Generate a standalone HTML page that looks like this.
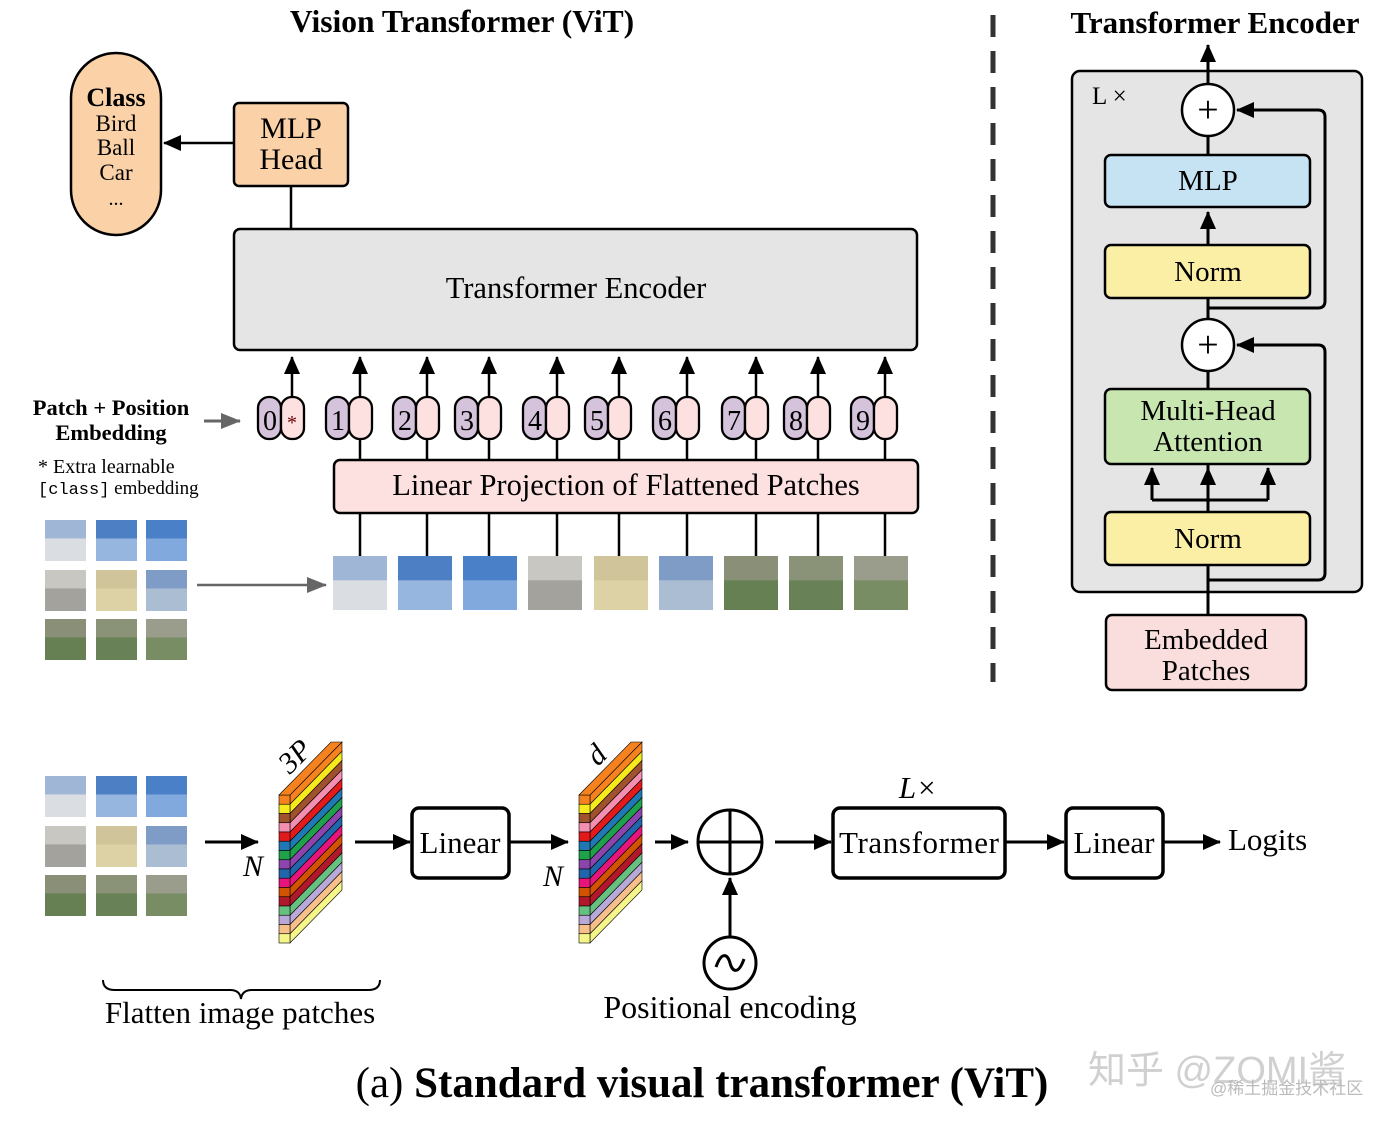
<!DOCTYPE html>
<html><head><meta charset="utf-8"><style>
html,body{margin:0;padding:0;background:#fff;width:1400px;height:1127px;overflow:hidden}
svg{display:block;font-family:"Liberation Serif",serif}
</style></head><body>
<svg id="s" width="1400" height="1127" viewBox="0 0 1400 1127" xmlns="http://www.w3.org/2000/svg">
<defs>
<marker id="ahb" markerWidth="18" markerHeight="16" refX="17" refY="8" orient="auto" markerUnits="userSpaceOnUse"><path d="M0,0 L18,8 L0,16 z" fill="#000"/></marker>
<marker id="ahg" markerWidth="20" markerHeight="16" refX="19" refY="8" orient="auto" markerUnits="userSpaceOnUse"><path d="M0,0 L20,8 L0,16 z" fill="#666"/></marker>
</defs>
<text x="462" y="32" font-size="31.5" font-weight="bold" text-anchor="middle">Vision Transformer (ViT)</text>
<text x="1215" y="33" font-size="31" font-weight="bold" text-anchor="middle">Transformer Encoder</text>
<line x1="993" y1="15" x2="993" y2="682" stroke="#333" stroke-width="5" stroke-dasharray="22,14"/>

<rect x="71" y="53" width="90" height="182" rx="45" fill="#fbd2a8" stroke="#000" stroke-width="2.5"/>
<text x="116" y="106" font-size="26" font-weight="bold" text-anchor="middle">Class</text>
<text x="116" y="131" font-size="23" text-anchor="middle">Bird</text>
<text x="116" y="155" font-size="23" text-anchor="middle">Ball</text>
<text x="116" y="180" font-size="23" text-anchor="middle">Car</text>
<text x="116" y="205" font-size="20" text-anchor="middle">...</text>
<rect x="234" y="103" width="114" height="83" rx="5" fill="#fbd2a8" stroke="#000" stroke-width="2.5"/>
<text x="291" y="138" font-size="30" text-anchor="middle">MLP</text>
<text x="291" y="169" font-size="30" text-anchor="middle">Head</text>
<line x1="234" y1="143" x2="164" y2="143" stroke="#000" stroke-width="2.5" marker-end="url(#ahb)"/>
<line x1="291" y1="186" x2="291" y2="229" stroke="#000" stroke-width="2.5"/>
<rect x="234" y="229" width="683" height="121" rx="6" fill="#e5e5e5" stroke="#000" stroke-width="2.5"/>
<text x="576" y="298" font-size="30.5" text-anchor="middle">Transformer Encoder</text>

<text x="111" y="415" font-size="22.5" font-weight="bold" text-anchor="middle">Patch + Position</text>
<text x="111" y="440" font-size="22.5" font-weight="bold" text-anchor="middle">Embedding</text>
<line x1="204" y1="421" x2="240" y2="421" stroke="#666" stroke-width="3" marker-end="url(#ahg)"/>
<text x="38" y="473" font-size="20">* Extra learnable</text>
<text x="38" y="494" font-size="19"><tspan font-family="Liberation Mono,monospace" font-size="17">[class]</tspan> embedding</text>

<rect x="334" y="460" width="584" height="53" rx="6" fill="#fde0e0" stroke="#000" stroke-width="2.5"/>
<text x="626" y="495" font-size="30.5" text-anchor="middle">Linear Projection of Flattened Patches</text>
<line x1="197" y1="585" x2="326" y2="585" stroke="#666" stroke-width="2.5" marker-end="url(#ahg)"/>
<g id="dyn"></g>

<rect x="1072" y="71" width="290" height="521" rx="8" fill="#e5e5e5" stroke="#000" stroke-width="2.5"/>
<text x="1092" y="104" font-size="25">L ×</text>
<line x1="1208" y1="84" x2="1208" y2="45" stroke="#000" stroke-width="3" marker-end="url(#ahb)"/>
<line x1="1208" y1="615" x2="1208" y2="565" stroke="#000" stroke-width="3"/>
<line x1="1208" y1="512" x2="1208" y2="372" stroke="#000" stroke-width="3"/>
<line x1="1208" y1="318" x2="1208" y2="298" stroke="#000" stroke-width="3"/>
<line x1="1208" y1="245" x2="1208" y2="212" stroke="#000" stroke-width="3" marker-end="url(#ahb)"/>
<line x1="1208" y1="155" x2="1208" y2="136" stroke="#000" stroke-width="3"/>
<path d="M1208,580 H1318 Q1325,580 1325,573 V352 Q1325,345 1318,345 H1237" fill="none" stroke="#000" stroke-width="3" marker-end="url(#ahb)"/>
<path d="M1208,308 H1318 Q1325,308 1325,301 V117 Q1325,110 1318,110 H1237" fill="none" stroke="#000" stroke-width="3" marker-end="url(#ahb)"/>
<path d="M1152,500 V470 M1268,500 V470 M1152,500 H1268" fill="none" stroke="#000" stroke-width="3"/>
<line x1="1152" y1="490" x2="1152" y2="468" stroke="#000" stroke-width="3" marker-end="url(#ahb)"/>
<line x1="1208" y1="490" x2="1208" y2="468" stroke="#000" stroke-width="3" marker-end="url(#ahb)"/>
<line x1="1268" y1="490" x2="1268" y2="468" stroke="#000" stroke-width="3" marker-end="url(#ahb)"/>
<circle cx="1208" cy="110" r="26" fill="#fff" stroke="#000" stroke-width="2.5"/>
<text x="1208" y="122" font-size="38" text-anchor="middle">+</text>
<circle cx="1208" cy="345" r="26" fill="#fff" stroke="#000" stroke-width="2.5"/>
<text x="1208" y="357" font-size="38" text-anchor="middle">+</text>
<rect x="1105" y="155" width="205" height="52" rx="6" fill="#c5e3f3" stroke="#000" stroke-width="2.5"/>
<text x="1208" y="190" font-size="29" text-anchor="middle">MLP</text>
<rect x="1105" y="245" width="205" height="53" rx="6" fill="#fbeea5" stroke="#000" stroke-width="2.5"/>
<text x="1208" y="281" font-size="29" text-anchor="middle">Norm</text>
<rect x="1105" y="389" width="205" height="75" rx="6" fill="#c8e6b0" stroke="#000" stroke-width="2.5"/>
<text x="1208" y="420" font-size="29" text-anchor="middle">Multi-Head</text>
<text x="1208" y="451" font-size="29" text-anchor="middle">Attention</text>
<rect x="1105" y="512" width="205" height="53" rx="6" fill="#fbeea5" stroke="#000" stroke-width="2.5"/>
<text x="1208" y="548" font-size="29" text-anchor="middle">Norm</text>
<rect x="1106" y="615" width="200" height="75" rx="6" fill="#fadede" stroke="#000" stroke-width="2.5"/>
<text x="1206" y="649" font-size="29" text-anchor="middle">Embedded</text>
<text x="1206" y="680" font-size="29" text-anchor="middle">Patches</text>

<line x1="205" y1="842" x2="258" y2="842" stroke="#000" stroke-width="3" marker-end="url(#ahb)"/>
<text x="253" y="876" font-size="30" font-style="italic" text-anchor="middle">N</text>
<line x1="355" y1="842" x2="410" y2="842" stroke="#000" stroke-width="3" marker-end="url(#ahb)"/>
<rect x="412" y="808" width="97" height="70" rx="7" fill="#fff" stroke="#000" stroke-width="3.5"/>
<text x="460" y="853" font-size="31" text-anchor="middle">Linear</text>
<line x1="509" y1="842" x2="568" y2="842" stroke="#000" stroke-width="3" marker-end="url(#ahb)"/>
<text x="553" y="886" font-size="30" font-style="italic" text-anchor="middle">N</text>
<line x1="655" y1="842" x2="688" y2="842" stroke="#000" stroke-width="3" marker-end="url(#ahb)"/>
<circle cx="730" cy="842" r="32" fill="#fff" stroke="#000" stroke-width="3"/>
<line x1="698" y1="842" x2="762" y2="842" stroke="#000" stroke-width="3"/>
<line x1="730" y1="810" x2="730" y2="874" stroke="#000" stroke-width="3"/>
<line x1="730" y1="937" x2="730" y2="878" stroke="#000" stroke-width="3" marker-end="url(#ahb)"/>
<circle cx="730" cy="963" r="26" fill="#fff" stroke="#000" stroke-width="3"/>
<path d="M716,967 C722,950 728,955 730,963 C732,971 738,976 744,959" fill="none" stroke="#000" stroke-width="3"/>
<line x1="775" y1="842" x2="831" y2="842" stroke="#000" stroke-width="3" marker-end="url(#ahb)"/>
<text x="918" y="798" font-size="31" font-style="italic" text-anchor="middle">L×</text>
<rect x="833" y="808" width="172" height="70" rx="7" fill="#fff" stroke="#000" stroke-width="3.5"/>
<text x="919" y="853" font-size="31" text-anchor="middle" textLength="160">Transformer</text>
<line x1="1005" y1="842" x2="1064" y2="842" stroke="#000" stroke-width="3" marker-end="url(#ahb)"/>
<rect x="1066" y="808" width="97" height="70" rx="7" fill="#fff" stroke="#000" stroke-width="3.5"/>
<text x="1114" y="853" font-size="31" text-anchor="middle">Linear</text>
<line x1="1163" y1="842" x2="1220" y2="842" stroke="#000" stroke-width="3" marker-end="url(#ahb)"/>
<text x="1228" y="850" font-size="31">Logits</text>
<path d="M103,980 Q103,990 115,990 H230 Q240,990 241,999 Q242,990 252,990 H368 Q380,990 380,980" fill="none" stroke="#000" stroke-width="2"/>
<text x="240" y="1023" font-size="31" text-anchor="middle">Flatten image patches</text>
<text x="730" y="1018" font-size="32" text-anchor="middle">Positional encoding</text>
<text x="702" y="1097" font-size="43" text-anchor="middle">(a) <tspan font-weight="bold">Standard visual transformer (ViT)</tspan></text>
<text x="1088" y="1083" font-size="38" fill="#d0d0d0" font-family="Liberation Sans,Noto Sans CJK SC,sans-serif">知乎 @ZOMI酱</text>
<text x="1210" y="1094" font-size="17" fill="#bbb" font-family="Liberation Sans,Noto Sans CJK SC,sans-serif">@稀土掘金技术社区</text>
</svg>
<script>
var g=document.getElementById('dyn'),h='';
var pc=['#9fb6d6','#4d7fc4','#4a80c8','#c9c7c2','#cfc49a','#7e9cc6','#8a8f78','#8a9278','#9a9d8c'];
var pc2=['#e8e8e6','#a9c3e6','#8fb3e3','#9a9894','#e0d6a8','#b7c6d6','#5d7a4a','#5f7d4d','#6f8a5a'];
function patch(x,y,w,i){h+='<rect x="'+x+'" y="'+y+'" width="'+w+'" height="'+w+'" fill="'+pc[i]+'"/>'+
 '<rect x="'+x+'" y="'+(y+w*0.45)+'" width="'+w+'" height="'+(w*0.55)+'" fill="'+pc2[i]+'" opacity="0.8"/>';}
var xs=[45,96,146],ys=[520,570,619];
for(var r=0;r<3;r++)for(var c=0;c<3;c++){patch(xs[c],ys[r],41,r*3+c);patch(xs[c],ys[r]+256,41,r*3+c);}
var px=[333,398,463,528,594,659,724,789,854];
var cx=[292,360,427,489,557,619,687,756,818,885];
for(var i=0;i<9;i++){patch(px[i],556,54,i);}
for(var i=0;i<10;i++){var x=cx[i];
 h+='<line x1="'+x+'" y1="397" x2="'+x+'" y2="357" stroke="#000" stroke-width="2.5" marker-end="url(#ahb)"/>';
 if(i>0)h+='<line x1="'+x+'" y1="439" x2="'+x+'" y2="460" stroke="#000" stroke-width="2.5"/><line x1="'+x+'" y1="513" x2="'+x+'" y2="556" stroke="#000" stroke-width="2.5"/>';
 h+='<rect x="'+(x-34)+'" y="397" width="23" height="42" rx="11" fill="#d5c3dc" stroke="#000" stroke-width="2.3"/>';
 h+='<rect x="'+(x-11)+'" y="397" width="23" height="42" rx="11" fill="#fde0e0" stroke="#000" stroke-width="2.3"/>';
 h+='<text x="'+(x-22)+'" y="430" font-size="28" text-anchor="middle">'+i+'</text>';
 if(i==0)h+='<text x="'+x+'" y="429" font-size="20" text-anchor="middle" fill="#600">*</text>';
}
var col=['#f5821f','#f7ea1c','#a0522d','#f48fb1','#e31a1c','#1f78b4','#1fa04a','#8e44ad','#2166ac','#e7157b','#d35400','#b2182b','#66c080','#b9a9d8','#f7c08a','#f5f58a'];
function stack(x0,y0){var sh=9.25;
 for(var k=0;k<16;k++){var y=y0+k*sh;
  h+='<polygon points="'+(x0+11)+','+y+' '+(x0+63)+','+(y-53)+' '+(x0+63)+','+(y-53+sh)+' '+(x0+11)+','+(y+sh)+'" fill="'+col[k]+'" stroke="#000" stroke-width="0.6"/>';
  h+='<rect x="'+x0+'" y="'+y+'" width="11" height="'+sh+'" fill="'+col[k]+'" stroke="#000" stroke-width="0.6"/>';}
 h+='<polygon points="'+x0+','+y0+' '+(x0+11)+','+y0+' '+(x0+63)+','+(y0-53)+' '+(x0+52)+','+(y0-53)+'" fill="#f5821f" stroke="#000" stroke-width="0.6"/>';}
stack(279,795);stack(579,795);
h+='<text x="0" y="0" font-size="30" font-style="italic" transform="translate(290,775) rotate(-45)">3P</text>';
h+='<text x="0" y="0" font-size="30" font-style="italic" transform="translate(598,767) rotate(-45)">d</text>';
g.innerHTML=h;
</script>
</body></html>
